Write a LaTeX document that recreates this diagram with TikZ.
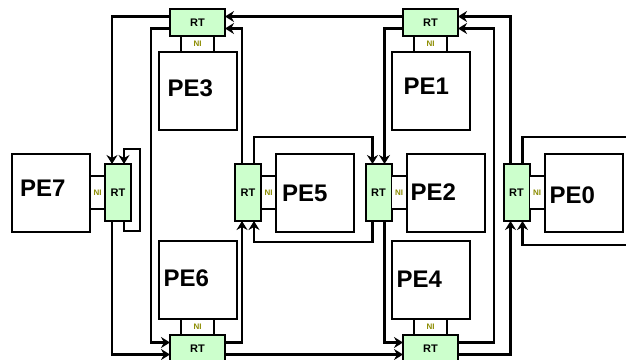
\documentclass[tikz,border=0pt]{standalone}
\usepackage{fontspec}
\setmainfont{Liberation Sans}
\usetikzlibrary{positioning, arrows.meta, calc}
\definecolor{rtgreen}{RGB}{204,255,204}
\definecolor{niolive}{RGB}{140,140,0}
\tikzset{
  % Routers
  router/.style={
    draw, line width=2pt, fill=rtgreen,
    inner sep=0pt, outer sep=0pt,
    font=\fontsize{11}{11}\selectfont\bfseries
  },
  routerH/.style={router, minimum width=55pt, minimum height=27pt},
  routerV/.style={router, minimum width=26pt, minimum height=57pt},
  % Network interfaces
  netif/.style={
    draw, line width=1.6pt, fill=white,
    inner sep=0pt, outer sep=0pt, text=niolive,
    font=\fontsize{8}{8}\selectfont\bfseries
  },
  netifH/.style={netif, minimum width=33pt, minimum height=16pt},
  netifV/.style={netif, minimum width=15pt, minimum height=33pt},
  % Processing elements
  procelem/.style={
    draw, line width=2pt, fill=white,
    minimum size=78pt, inner sep=0pt, outer sep=0pt
  },
  pelabel/.style={
    font=\fontsize{24}{24}\selectfont\bfseries,
    inner sep=0pt, anchor=west
  },
  % Links
  link/.style={
    -{Stealth[length=9pt, width=11pt, inset=3pt]},
    line width=2.2pt
  },
  wire/.style={-, line width=2.2pt},
}

\begin{document}
\begin{tikzpicture}[x=1pt, y=-1pt]

  \fill[white] (0,0) rectangle (626,359);
  \useasboundingbox (0,0) rectangle (626,359);

  %% ── Routers ──
  \node[routerH] (rt3) at (197.5, 22.5) {RT};
  \node[routerH] (rt1) at (430.5, 22.5) {RT};
  \node[routerH] (rt6) at (197.5, 348.5) {RT};
  \node[routerH] (rt4) at (430.5, 348.5) {RT};
  \node[routerV] (rt7) at (118, 192.5) {RT};
  \node[routerV] (rt5) at (248, 192.5) {RT};
  \node[routerV] (rt2) at (378.5, 192.5) {RT};
  \node[routerV] (rt0) at (516.5, 192.5) {RT};

  %% ── Network interfaces ──
  \node[netifH, below=0pt of rt3] (ni3) {NI};
  \node[netifH, below=0pt of rt1] (ni1) {NI};
  \node[netifH, above=0pt of rt6] (ni6) {NI};
  \node[netifH, above=0pt of rt4] (ni4) {NI};
  \node[netifV, left=0pt of rt7]  (ni7) {NI};
  \node[netifV, right=0pt of rt5] (ni5) {NI};
  \node[netifV, right=0pt of rt2] (ni2) {NI};
  \node[netifV, right=0pt of rt0] (ni0) {NI};

  %% ── Processing elements ──
  \node[procelem, below=0pt of ni3] (pe3) {};
  \node[procelem, below=0pt of ni1] (pe1) {};
  \node[procelem, above=0pt of ni6] (pe6) {};
  \node[procelem, above=0pt of ni4] (pe4) {};
  \node[procelem, left=0pt of ni7]  (pe7) {};
  \node[procelem, right=0pt of ni5] (pe5) {};
  \node[procelem, right=0pt of ni2] (pe2) {};
  \node[procelem, right=0pt of ni0] (pe0) {};

  \node[pelabel] at ([xshift=9pt, yshift=3pt]pe3.west) {PE3};
  \node[pelabel] at ([xshift=12pt, yshift=5pt]pe1.west) {PE1};
  \node[pelabel] at ([xshift=5pt, yshift=2pt]pe6.west) {PE6};
  \node[pelabel] at ([xshift=5pt, yshift=1pt]pe4.west) {PE4};
  \node[pelabel] at ([xshift=8pt, yshift=4.5pt]pe7.west) {PE7};
  \node[pelabel] at ([xshift=6pt, yshift=-1pt]pe5.west) {PE5};
  \node[pelabel] at ([xshift=4pt, yshift=0pt]pe2.west) {PE2};
  \node[pelabel] at ([xshift=5pt, yshift=-3pt]pe0.west) {PE0};

  %% ── Wrap-around ends ──
  \coordinate (wrapout) at (630, 137);
  \coordinate (wrapin)  at (630, 245);

  %% ── Top row links ──
  \draw[link] ([yshift=6pt]rt3.west) -| ([xshift=-6pt]rt7.north);
  \draw[link] ([yshift=-6pt]rt3.west) -- ++(-19,0) |- ([yshift=6pt]rt6.west);
  \draw[link] ([yshift=6pt]rt1.west) -- ([yshift=6pt]rt3.east);
  \draw[link] ([xshift=-6pt]rt5.north) |- ([yshift=-6pt]rt3.east);
  \draw[link, line width=3pt] ([yshift=-6pt]rt1.west) -| ([xshift=6pt]rt2.north);
  \draw[link] ([xshift=-6pt]rt0.north) |- ([yshift=6pt]rt1.east);
  \draw[link] ([yshift=6pt]rt4.east) -- ++(36,0) |- ([yshift=-6pt]rt1.east);

  %% ── Middle row links ──
  \draw[link] ([xshift=6pt]rt5.north) -- ++(0,-27) -| ([xshift=-6pt]rt2.north);
  \draw[link] ([xshift=-6pt]rt2.south) -- ++(0,21) -| ([xshift=6pt]rt5.south);
  \draw[link] ([xshift=6pt]rt7.south) -- ++(0,10) -- ++(16,0) -- ++(0,-82)
              -| ([xshift=6pt]rt7.north);
  \draw[wire] ([xshift=6pt]rt0.north) |- (wrapout);
  \draw[link] (wrapin) -| ([xshift=6pt]rt0.south);

  %% ── Bottom row links ──
  \draw[link] ([xshift=6pt]rt2.south) |- ([yshift=6pt]rt4.west);
  \draw[link] ([yshift=6pt]rt6.east) -| ([xshift=-6pt]rt5.south);
  \draw[link] ([yshift=-6pt]rt6.east) -- ([yshift=-6pt]rt4.west);
  \draw[link] ([xshift=-6pt]rt7.south) |- ([yshift=-6pt]rt6.west);
  \draw[link] ([yshift=-6pt]rt4.east) -| ([xshift=-6pt]rt0.south);

\end{tikzpicture}
\end{document}
